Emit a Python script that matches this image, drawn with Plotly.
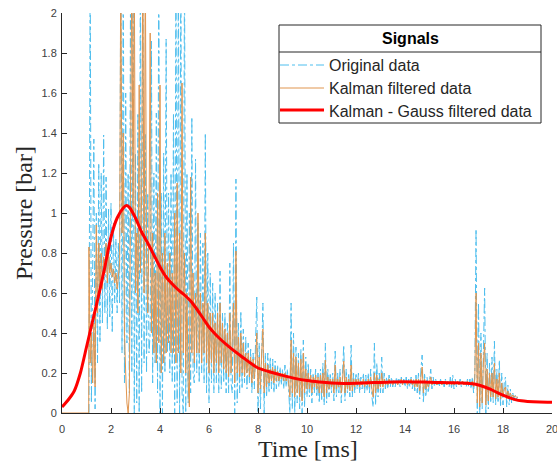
import numpy as np
import plotly.graph_objects as go

# ---- data ----
sample_start_ms = 1.10
sample_step_ms = 0.05

original_data = [
    0.0, 2.3, 0.05, 0.95, 1.37, 0.02, 1.0, 0.25, 1.25, 0.35,
    1.2, 0.45, 1.39, 0.5, 1.18, 0.42, 1.02, 0.48, 1.05, 0.4,
    0.95, 0.55, 0.87, 0.5, 0.85, 0.55, 2.3, 0.3, 2.3, 0.15,
    1.6, 0.35, 1.2, 0.1, 2.3, 0.2, 2.3, 0.0, 1.3, 0.05,
    1.5, 0.0, 2.3, 0.1, 2.3, 0.25, 1.4, 0.2, 1.1, 0.3,
    0.4, 1.86, 0.15, 1.2, 0.25, 1.5, 0.1, 2.3, 0.0, 1.1,
    0.0, 1.3, 0.2, 1.87, 0.3, 1.1, 0.2, 1.2, 0.15, 1.5,
    0.0, 2.3, 0.05, 2.3, 0.0, 2.3, 0.1, 0.0, 2.3, 0.0,
    1.2, 0.05, 1.0, 0.1, 1.48, 0.2, 0.15, 1.27, 0.2, 0.95,
    0.15, 0.9, 0.2, 0.85, 0.15, 1.4, 0.1, 0.8, 0.05, 0.7,
    0.15, 0.65, 0.1, 0.6, 0.15, 0.55, 0.1, 0.71, 0.12, 0.5,
    0.15, 0.5, 0.1, 0.45, 0.1, 0.75, 0.15, 0.1, 0.85, 0.0,
    1.17, 0.05, 0.45, 0.1, 0.51, 0.12, 0.42, 0.15, 0.38, 0.12,
    0.35, 0.15, 0.32, 0.1, 0.3, 0.12, 0.35, 0.58, 0.0, 0.35,
    0.02, 0.4, 0.55, 0.0, 0.3, 0.08, 0.3, 0.1, 0.28, 0.12,
    0.27, 0.1, 0.26, 0.12, 0.24, 0.13, 0.23, 0.14, 0.22, 0.12,
    0.24, 0.13, 0.22, 0.12, 0.0, 0.55, 0.02, 0.4, 0.0, 0.33,
    0.05, 0.3, 0.02, 0.32, 0.0, 0.365, 0.03, 0.28, 0.08, 0.25,
    0.08, 0.22, 0.05, 0.2, 0.1, 0.22, 0.08, 0.2, 0.05, 0.22,
    0.06, 0.25, 0.04, 0.35, 0.05, 0.22, 0.08, 0.2, 0.1, 0.2,
    0.06, 0.31, 0.08, 0.2, 0.1, 0.22, 0.05, 0.2, 0.34, 0.06,
    0.22, 0.1, 0.2, 0.08, 0.34, 0.08, 0.2, 0.1, 0.2, 0.12,
    0.2, 0.1, 0.18, 0.12, 0.2, 0.1, 0.19, 0.11, 0.2, 0.1,
    0.22, 0.08, 0.03, 0.35, 0.04, 0.25, 0.08, 0.2, 0.1, 0.28,
    0.1, 0.2, 0.12, 0.18, 0.12, 0.19, 0.13, 0.18, 0.13, 0.17,
    0.13, 0.18, 0.14, 0.17, 0.13, 0.18, 0.14, 0.17, 0.13, 0.18,
    0.12, 0.17, 0.13, 0.18, 0.12, 0.17, 0.11, 0.19, 0.1, 0.2,
    0.07, 0.22, 0.29, 0.05, 0.2, 0.08, 0.18, 0.1, 0.17, 0.22,
    0.12, 0.18, 0.13, 0.17, 0.14, 0.16, 0.13, 0.17, 0.14, 0.16,
    0.13, 0.17, 0.14, 0.16, 0.13, 0.18, 0.12, 0.19, 0.12, 0.17,
    0.13, 0.16, 0.14, 0.17, 0.13, 0.16, 0.14, 0.16, 0.13, 0.17,
    0.13, 0.17, 0.12, 0.18, 0.1, 0.2, 0.92, 0.0, 0.55, 0.0,
    0.4, 0.02, 0.3, 0.625, 0.0, 0.3, 0.02, 0.25, 0.05, 0.28,
    0.05, 0.36, 0.04, 0.22, 0.05, 0.265, 0.03, 0.2, 0.04, 0.15,
    0.18, 0.03, 0.14, 0.04, 0.12, 0.05, 0.1, 0.06, 0.09, 0.07,
    0.08,
]

kalman_lead_t = [0.0, 1.09]
kalman_lead_v = [0.0, 0.0]
kalman_data = [
    0.83, 0.25, 0.4, 0.15, 0.45, 0.13, 0.94, 0.5, 0.85, 0.6,
    0.8, 0.62, 0.78, 0.7, 0.85, 0.65, 0.8, 0.7, 0.75, 0.68,
    0.72, 0.65, 0.7, 0.62, 0.68, 0.75, 2.3, 0.9, 1.4, 0.4,
    0.2, 0.05, 0.0, 0.1, 1.2, 2.3, 1.0, 2.3, 0.6, 0.9,
    0.5, 1.64, 0.7, 1.1, 2.3, 0.6, 2.3, 0.8, 0.5, 0.9,
    1.9, 0.4, 0.9, 0.3, 0.7, 0.25, 1.1, 0.35, 1.64, 0.2,
    0.8, 0.25, 0.9, 0.3, 0.75, 0.35, 0.8, 0.3, 0.7, 0.3,
    1.0, 0.25, 1.15, 0.3, 0.9, 0.2, 1.65, 0.3, 0.8, 0.2,
    0.6, 0.15, 0.03, 1.18, 0.3, 0.7, 0.25, 0.6, 0.3, 1.0,
    0.3, 0.6, 0.25, 0.55, 0.3, 0.9, 0.25, 0.55, 0.2, 0.5,
    0.25, 0.5, 0.2, 0.45, 0.25, 0.5, 0.2, 0.55, 0.25, 0.45,
    0.22, 0.42, 0.2, 0.4, 0.18, 0.5, 0.2, 0.4, 0.55, 0.15,
    0.81, 0.2, 0.38, 0.18, 0.4, 0.2, 0.35, 0.18, 0.3, 0.2,
    0.3, 0.18, 0.28, 0.15, 0.27, 0.17, 0.25, 0.4, 0.1, 0.28,
    0.12, 0.3, 0.42, 0.1, 0.25, 0.13, 0.24, 0.15, 0.22, 0.16,
    0.23, 0.15, 0.22, 0.16, 0.21, 0.16, 0.2, 0.17, 0.2, 0.16,
    0.2, 0.16, 0.19, 0.15, 0.08, 0.365, 0.1, 0.3, 0.08, 0.28,
    0.1, 0.25, 0.08, 0.27, 0.06, 0.3, 0.1, 0.22, 0.12, 0.2,
    0.12, 0.19, 0.1, 0.18, 0.13, 0.19, 0.12, 0.18, 0.1, 0.19,
    0.1, 0.2, 0.08, 0.265, 0.1, 0.18, 0.12, 0.17, 0.13, 0.17,
    0.1, 0.24, 0.12, 0.17, 0.13, 0.18, 0.1, 0.17, 0.26, 0.1,
    0.18, 0.12, 0.17, 0.11, 0.24, 0.11, 0.17, 0.13, 0.17, 0.14,
    0.17, 0.13, 0.16, 0.14, 0.17, 0.13, 0.16, 0.14, 0.17, 0.13,
    0.18, 0.12, 0.08, 0.2, 0.1, 0.19, 0.12, 0.17, 0.13, 0.2,
    0.13, 0.17, 0.14, 0.16, 0.14, 0.17, 0.15, 0.16, 0.14, 0.16,
    0.15, 0.16, 0.14, 0.16, 0.15, 0.17, 0.14, 0.16, 0.15, 0.16,
    0.14, 0.16, 0.15, 0.17, 0.14, 0.16, 0.13, 0.17, 0.13, 0.17,
    0.11, 0.18, 0.23, 0.1, 0.17, 0.12, 0.16, 0.13, 0.15, 0.18,
    0.14, 0.16, 0.15, 0.16, 0.14, 0.15, 0.15, 0.16, 0.14, 0.15,
    0.15, 0.16, 0.14, 0.15, 0.15, 0.16, 0.14, 0.16, 0.14, 0.15,
    0.15, 0.16, 0.14, 0.15, 0.15, 0.16, 0.14, 0.15, 0.14, 0.16,
    0.14, 0.15, 0.14, 0.16, 0.13, 0.17, 0.6, 0.05, 0.35, 0.03,
    0.3, 0.05, 0.25, 0.35, 0.04, 0.22, 0.06, 0.2, 0.08, 0.2,
    0.08, 0.25, 0.07, 0.17, 0.08, 0.2, 0.07, 0.15, 0.08, 0.12,
    0.13, 0.07, 0.11, 0.08, 0.1, 0.08, 0.09, 0.08, 0.085, 0.08,
    0.08,
]

gauss_t = [0.0, 0.25, 0.5, 0.75, 1.0, 1.25, 1.5, 1.75, 2.0, 2.25, 2.5, 2.63, 2.75,
           3.0, 3.25, 3.5, 3.75, 4.0, 4.25, 4.5, 4.75, 5.0, 5.25, 5.5, 5.75,
           6.0, 6.25, 6.5, 6.75, 7.0, 7.25, 7.5, 7.75, 8.0, 8.5, 9.0, 9.5,
           10.0, 10.5, 11.0, 11.5, 12.0, 12.5, 13.0, 13.5, 14.0, 14.5, 15.0,
           15.5, 16.0, 16.5, 16.75, 17.0, 17.25, 17.5, 17.75, 18.0, 18.25,
           18.5, 18.75, 19.0, 19.5, 20.0]
gauss_v = [0.03, 0.065, 0.11, 0.2, 0.33, 0.46, 0.59, 0.73, 0.88, 0.975, 1.025,
           1.037, 1.028, 0.975, 0.905, 0.85, 0.79, 0.73, 0.68, 0.645, 0.615, 0.59,
           0.56, 0.52, 0.475, 0.43, 0.395, 0.365, 0.338, 0.313, 0.29, 0.267,
           0.245, 0.225, 0.205, 0.188, 0.173, 0.162, 0.155, 0.15, 0.148, 0.149,
           0.151, 0.153, 0.155, 0.156, 0.155, 0.154, 0.152, 0.151, 0.149,
           0.146, 0.14, 0.13, 0.118, 0.103, 0.089, 0.077, 0.067, 0.061, 0.058,
           0.055, 0.054]

series_names = ["Original data", "Kalman filtered data", "Kalman - Gauss filtered data"]
legend_title = "Signals"
x_ticks = [0, 2, 4, 6, 8, 10, 12, 14, 16, 18, 20]
y_ticks = [0, 0.2, 0.4, 0.6, 0.8, 1, 1.2, 1.4, 1.6, 1.8, 2]

# ---- styling ----
W, H = 557, 467
ML, MR, MT, MB = 62, 5, 13, 54
PW, PH = W - ML - MR, H - MT - MB
axis_col = "#262626"
tick_col = "#404040"
colors = ["#4DBEEE", "#E0954F", "#FF0000"]
widths = [1, 1, 3]
dashes = ["dashdot", "solid", "solid"]


def px_x(px):
    return (px - ML) / PW


def px_y(py):
    return (H - MB - py) / PH


t_orig = sample_start_ms + sample_step_ms * np.arange(len(original_data))
t_kal = np.concatenate([kalman_lead_t,
                        sample_start_ms + sample_step_ms * np.arange(len(kalman_data))])
v_kal = list(kalman_lead_v) + list(kalman_data)

fig = go.Figure()
fig.add_trace(go.Scatter(x=t_orig, y=original_data, mode="lines", name=series_names[0],
                         line=dict(color=colors[0], width=widths[0], dash=dashes[0])))
fig.add_trace(go.Scatter(x=t_kal, y=v_kal, mode="lines", name=series_names[1],
                         line=dict(color=colors[1], width=widths[1])))
fig.add_trace(go.Scatter(x=gauss_t, y=gauss_v, mode="lines", name=series_names[2],
                         line=dict(color=colors[2], width=widths[2], shape="spline",
                                   smoothing=0.6)))

# ---- legend box (drawn like the MATLAB legend with a titled header) ----
box_l, box_r, box_t, box_b = 279, 541, 25, 123
sep_y = 52
item_y = [65, 88, 110]
shapes = [
    dict(type="rect", xref="paper", yref="paper",
         x0=px_x(box_l), x1=px_x(box_r), y0=px_y(box_b), y1=px_y(box_t),
         line=dict(color=axis_col, width=1), fillcolor="white", layer="above"),
    dict(type="line", xref="paper", yref="paper",
         x0=px_x(box_l), x1=px_x(box_r), y0=px_y(sep_y), y1=px_y(sep_y),
         line=dict(color=axis_col, width=1), layer="above"),
]
annotations = [
    dict(text="<b>" + legend_title + "</b>", xref="paper", yref="paper",
         x=px_x((box_l + box_r) / 2), y=px_y(39), xanchor="center", yanchor="middle",
         showarrow=False, font=dict(family="Liberation Sans, Arial", size=16, color="#000000")),
]
for i, name in enumerate(series_names):
    shapes.append(dict(type="line", xref="paper", yref="paper",
                       x0=px_x(box_l + 1), x1=px_x(324), y0=px_y(item_y[i]), y1=px_y(item_y[i]),
                       line=dict(color=colors[i], width=widths[i], dash=dashes[i]),
                       layer="above"))
    annotations.append(dict(text=name, xref="paper", yref="paper",
                            x=px_x(327), y=px_y(item_y[i] + 1), xanchor="left", yanchor="middle",
                            showarrow=False,
                            font=dict(family="Liberation Sans, Arial", size=16, color=axis_col)))

# axis titles
annotations.append(dict(text="Time [ms]", xref="paper", yref="paper",
                        x=px_x(308), y=px_y(449), xanchor="center", yanchor="middle",
                        showarrow=False,
                        font=dict(family="Liberation Serif, Times New Roman", size=24, color=axis_col)))
annotations.append(dict(text="Pressure [bar]", xref="paper", yref="paper", textangle=-90,
                        x=px_x(24), y=px_y(213), xanchor="center", yanchor="middle",
                        showarrow=False,
                        font=dict(family="Liberation Serif, Times New Roman", size=24, color=axis_col)))

fig.update_layout(
    width=W, height=H,
    margin=dict(l=ML, r=MR, t=MT, b=MB, autoexpand=False),
    paper_bgcolor="white", plot_bgcolor="white",
    showlegend=False,
    font=dict(family="Liberation Sans, Arial", color=axis_col, size=11),
    shapes=shapes, annotations=annotations,
    xaxis=dict(range=[0, 20], tickvals=x_ticks, ticks="inside", ticklen=5,
               tickcolor=axis_col, showline=True, linecolor=axis_col, linewidth=1,
               showgrid=False, zeroline=False, mirror=False, automargin=False,
               ticklabeloverflow="allow", ticklabelstandoff=6,
               tickfont=dict(size=11, color=tick_col)),
    yaxis=dict(range=[0, 2], tickvals=y_ticks, ticks="inside", ticklen=5,
               tickcolor=axis_col, showline=True, linecolor=axis_col, linewidth=1,
               showgrid=False, zeroline=False, mirror=False, automargin=False,
               ticklabeloverflow="allow", ticklabelstandoff=2,
               tickfont=dict(size=11, color=tick_col)),
)

fig.write_html("out.html", config={"displayModeBar": False},
               post_script="document.body.style.margin='0px';document.body.style.overflow='hidden';")
